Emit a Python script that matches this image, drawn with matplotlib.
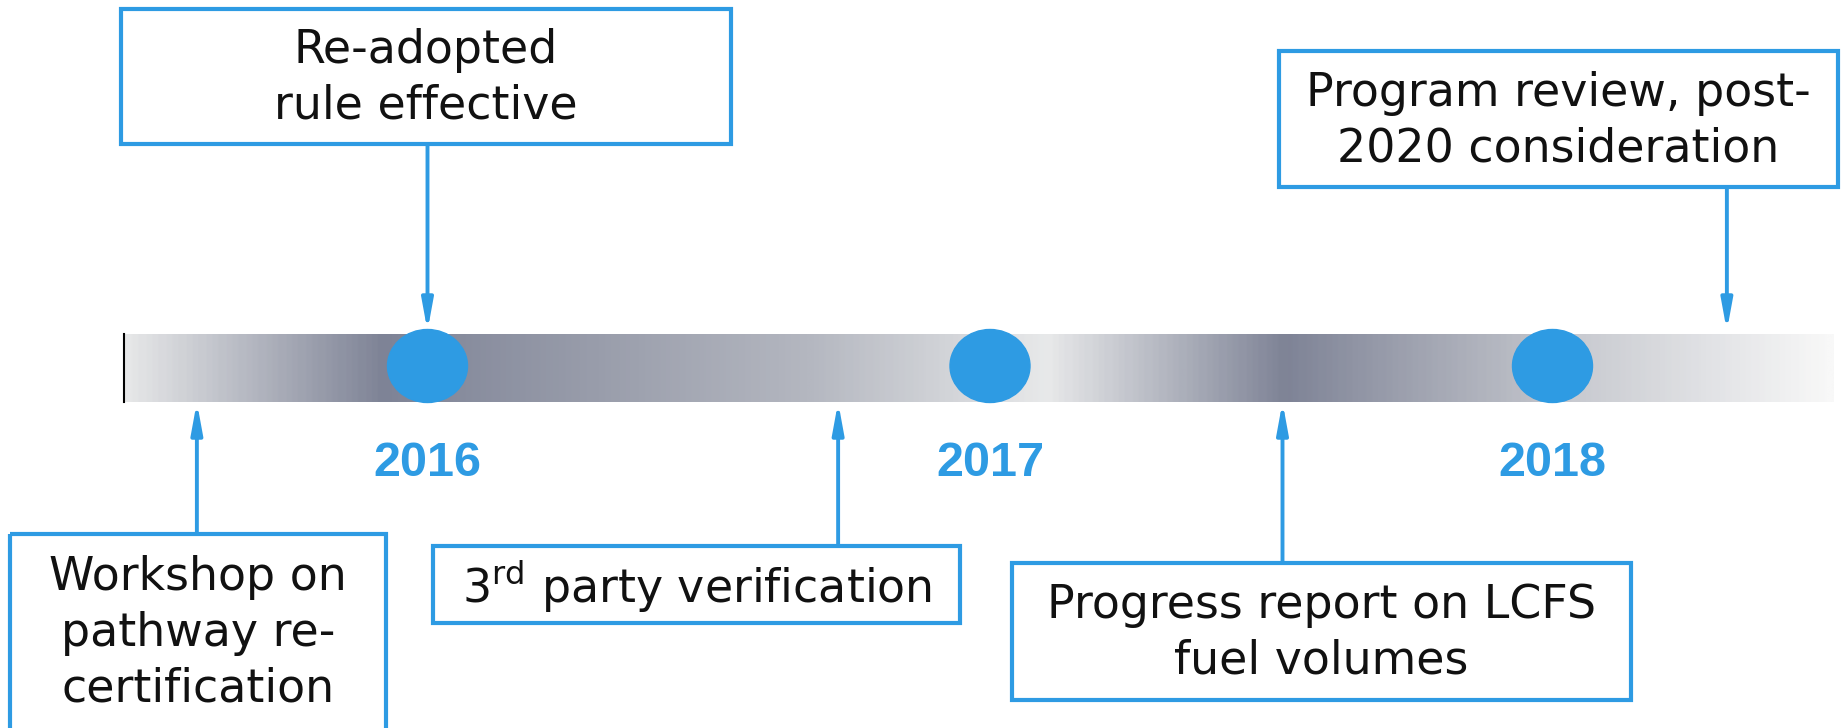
import numpy as np
import matplotlib
matplotlib.use("Agg")
import matplotlib.pyplot as plt
from matplotlib.colors import LinearSegmentedColormap
from matplotlib.patches import Ellipse, Rectangle

# timeline data (fractional years)
years = [2016, 2017, 2018]
year_labels = ["2016", "2017", "2018"]
events = ["Re-adopted\nrule effective",
          "Program review, post-\n2020 consideration",
          "Workshop on\npathway re-\ncertification",
          "3$^{\\mathregular{rd}}$ party verification",
          "Progress report on LCFS\nfuel volumes"]
event_dates = [2016.0, 2018.31, 2015.59, 2016.73, 2017.52]
event_side = ["top", "top", "bottom", "bottom", "bottom"]
bar_span = [2015.46, 2018.50]

# layout, in pixels of the 1845x728 canvas: (left, top, right, bottom)
boxes_px = [(121, 9, 731, 144),
            (1279, 51, 1838, 187),
            (10, 534, 386, 735),
            (433, 546, 960, 623),
            (1012, 563, 1631, 700)]

BLUE = "#2e9be3"
W, H = 1845, 728

fig = plt.figure(figsize=(W / 100, H / 100), dpi=100)
ax = fig.add_axes([0, 0, 1, 1])      # years on x, pixels on y
lay = fig.add_axes([0, 0, 1, 1])     # pixel layout
for a in (ax, lay):
    a.set_ylim(H, 0)
    a.axis("off")
lay.set_xlim(0, W)
lay.patch.set_alpha(0)
ax.set_xlim(2015.24, 2018.52)
px_per_year = W / (2018.52 - 2015.24)

# gradient bar
bar_top, bar_bot = 334, 402
stops = [(0.0, "#e6e7e8"), (0.15, "#7e8396"), (0.40, "#b4b7c0"),
         (0.54, "#e8e9ea"), (0.68, "#7e8396"), (0.85, "#c8cad0"), (1.0, "#f8f8f8")]
cmap = LinearSegmentedColormap.from_list("bar", stops)
grad = np.linspace(0, 1, 600).reshape(1, -1)
ax.imshow(grad, cmap=cmap, aspect="auto",
          extent=[bar_span[0], bar_span[1], bar_bot, bar_top], zorder=1)
ax.plot([bar_span[0], bar_span[0]], [bar_top, bar_bot], color="black", lw=1.5, zorder=2)
ax.set_xlim(2015.24, 2018.52)
ax.set_ylim(H, 0)

# year markers
for yr, lab in zip(years, year_labels):
    ax.add_patch(Ellipse((yr, 366), 80 / px_per_year, 73, color=BLUE, zorder=3))
    ax.text(yr, 464, lab, ha="center", va="center", color=BLUE,
            fontsize=35, fontweight="bold", family="Liberation Sans")

# arrows
for d, side, (l, t, r, b) in zip(event_dates, event_side, boxes_px):
    if side == "top":
        tail, tip = b, 331
    else:
        tail, tip = t, 402
    ax.annotate("", xy=(d, tip), xytext=(d, tail),
                arrowprops=dict(arrowstyle="-|>,head_length=1.2,head_width=0.22",
                                color=BLUE, lw=2.8, mutation_scale=15,
                                shrinkA=0, shrinkB=0), zorder=4)

# boxes and labels
for txt, (l, t, r, b) in zip(events, boxes_px):
    lay.add_patch(Rectangle((l, t), r - l, b - t, fill=False, edgecolor=BLUE,
                            lw=3, zorder=5, clip_on=False))
    cy = (t + min(b, H)) / 2
    lay.text((l + r) / 2, cy + 2, txt, ha="center", va="center", fontsize=33,
             color="#111111", linespacing=1.3, family="DejaVu Sans", zorder=6)

fig.savefig("out.png", dpi=100)
